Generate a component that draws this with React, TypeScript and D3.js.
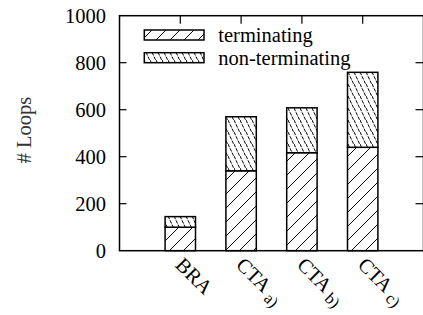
import React from "react";
import * as d3 from "d3";

const categories = ["BRA", "CTA a)", "CTA b)", "CTA c)"];
const labelMain = ["BRA", "CTA", "CTA", "CTA"];
const labelSub = ["", "a)", "b)", "c)"];
const terminating = [100, 340, 417, 440];
const nonTerminating = [45, 230, 191, 319];
const yTicks = [0, 200, 400, 600, 800, 1000];
const seriesNames = ["terminating", "non-terminating"];

const W = 423;
const H = 315;
const FONT = "Liberation Serif";

export default function App() {
  const x = d3.scaleLinear().domain([0, 5]).range([119.5, 423.5]);
  const y = d3.scaleLinear().domain([0, 1000]).range([250.7, 15.7]);
  const bw = x(0.5) - x(0);
  const fs = 20.5;
  const ts = { fontFamily: FONT };

  return (
    <svg
      width={W}
      height={H}
      style={{ position: "absolute", left: 0, top: 0, display: "block", background: "#fff" }}
    >
      <defs>
        <pattern id="term" patternUnits="userSpaceOnUse" width={14} height={14}>
          <path d="M0,14 L14,0 M-2,2 L2,-2 M12,16 L16,12" stroke="#000" strokeWidth={1} fill="none" />
        </pattern>
        <pattern id="nonterm" patternUnits="userSpaceOnUse" width={6} height={12}>
          <path
            d="M0,0 L1.5,3.2 M2,4.3 L3.5,7.5 M4,8.6 L5.5,11.8"
            stroke="#000"
            strokeWidth={1}
            fill="none"
          />
        </pattern>
      </defs>

      {/* bars */}
      {categories.map((c, i) => {
        const cx = x(i + 1);
        const t = terminating[i];
        const n = nonTerminating[i];
        return (
          <g key={c}>
            <rect x={cx - bw / 2} y={y(t)} width={bw} height={y(0) - y(t)} fill="#fff" />
            <rect x={cx - bw / 2} y={y(t)} width={bw} height={y(0) - y(t)} fill="url(#term)" stroke="#000" strokeWidth={1.5} />
            <rect x={cx - bw / 2} y={y(t + n)} width={bw} height={y(t) - y(t + n)} fill="#fff" />
            <rect x={cx - bw / 2} y={y(t + n)} width={bw} height={y(t) - y(t + n)} fill="url(#nonterm)" stroke="#000" strokeWidth={1.5} />
          </g>
        );
      })}

      {/* frame */}
      <rect x={x(0)} y={y(1000)} width={x(5) - x(0)} height={y(0) - y(1000)} fill="none" stroke="#000" strokeWidth={1.5} />

      {/* y ticks */}
      {yTicks.map((v) => (
        <g key={v}>
          {v > 0 && v < 1000 && (
            <>
              <line x1={x(0)} x2={x(0) + 7} y1={y(v)} y2={y(v)} stroke="#000" strokeWidth={1.2} />
              <line x1={x(5) - 8} x2={x(5)} y1={y(v)} y2={y(v)} stroke="#000" strokeWidth={1.2} />
            </>
          )}
          <text x={106} y={y(v) + 7} textAnchor="end" fontSize={fs} fill="#000" style={ts}>
            {v}
          </text>
        </g>
      ))}

      {/* top x ticks */}
      {categories.map((c, i) => (
        <line key={c} x1={x(i + 1)} x2={x(i + 1)} y1={y(1000)} y2={y(1000) + 8} stroke="#000" strokeWidth={1.2} />
      ))}

      {/* x labels */}
      {categories.map((c, i) => {
        const ax = x(i + 1) - 6;
        const ay = 266;
        return (
          <text key={c} transform={`translate(${ax},${ay}) rotate(45)`} fontSize={fs} fill="#000" style={ts}>
            {labelMain[i]}
            {labelSub[i] && (
              <tspan fontSize={fs * 0.8} dx={4} dy={4}>
                {labelSub[i]}
              </tspan>
            )}
          </text>
        );
      })}

      {/* y label */}
      <text transform={`translate(31,130) rotate(-90)`} textAnchor="middle" fontSize={fs} fill="#333" style={ts}>
        # Loops
      </text>

      {/* legend */}
      {seriesNames.map((s, i) => {
        const cy = 35 + i * 22.7;
        return (
          <g key={s}>
            <rect x={144.3} y={cy - 5} width={59.7} height={10} fill="#fff" />
            <rect x={144.3} y={cy - 5} width={59.7} height={10} fill={i === 0 ? "url(#term)" : "url(#nonterm)"} stroke="#000" strokeWidth={1.5} />
            <text x={218.3} y={cy + 7} fontSize={fs} fill="#000" style={ts}>
              {s}
            </text>
          </g>
        );
      })}
    </svg>
  );
}
